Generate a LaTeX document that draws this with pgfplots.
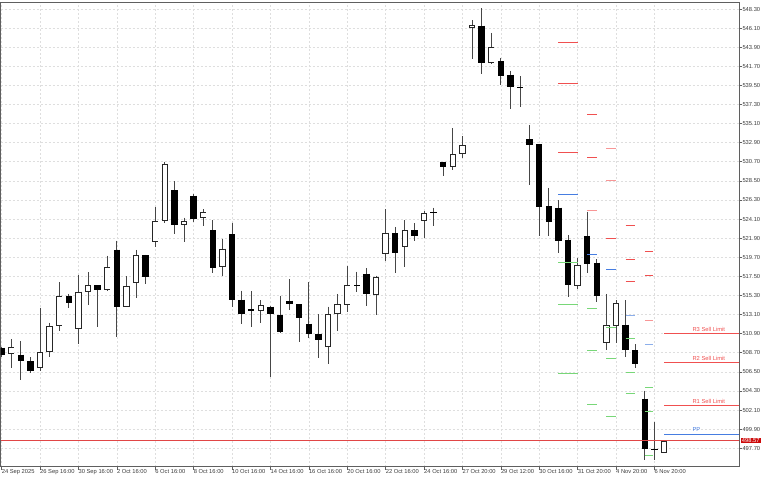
\documentclass[border=0pt]{standalone}
\usepackage{pgfplots}
\pgfplotsset{compat=1.18}
\usepackage{pgfplotstable}
\usepackage{fontspec}
\setmainfont{Liberation Sans}
\definecolor{framegray}{RGB}{95,95,95}
\definecolor{gridgray}{RGB}{222,222,222}
\definecolor{txtgray}{RGB}{60,60,60}
\definecolor{wick}{RGB}{70,70,70}
\definecolor{lvred}{RGB}{240,80,80}
\definecolor{lvpink}{RGB}{248,150,150}
\definecolor{lvblue}{RGB}{70,125,225}
\definecolor{lvlblue}{RGB}{140,175,235}
\definecolor{lvgreen}{RGB}{120,215,120}
\definecolor{priceline}{RGB}{225,70,70}
\definecolor{pricebox}{RGB}{205,10,10}

% bullish candles (white)
\pgfplotstableread{
x o h l c
1 508.52 510.24 506.90 509.32
4 506.90 513.89 506.63 508.75
5 508.75 512.16 508.17 511.74
6 511.74 516.81 511.24 515.27
8 511.40 517.62 509.71 515.74
9 515.74 518.00 514.20 516.46
11 515.89 519.88 515.80 518.54
13 514.01 517.54 514.00 516.43
14 516.77 520.54 514.97 519.92
16 521.46 525.45 520.92 523.88
17 523.88 530.71 523.68 530.40
19 523.38 524.26 521.46 523.88
21 524.18 525.26 523.26 524.91
23 518.54 521.84 517.54 520.69
27 513.51 514.77 512.16 514.16
34 509.40 514.01 507.36 513.12
35 513.12 515.47 511.20 514.28
36 514.20 518.66 513.43 516.46
39 515.39 517.58 513.05 517.42
40 520.04 525.22 519.27 522.53
42 520.84 523.99 518.62 522.84
44 523.88 525.03 521.88 524.76
47 530.13 534.59 529.75 531.56
48 531.56 533.67 531.10 532.60
49 546.15 547.03 542.50 546.46
51 542.11 545.54 542.00 543.92
60 516.43 519.65 516.04 518.85
63 509.78 515.47 509.01 511.89
64 511.78 514.77 509.86 514.39
69 497.19 498.57 497.19 498.57
}\bulltable

% bearish candles (black)
\pgfplotstableread{
x o h l c
0 509.28 509.40 508.20 508.44
2 508.48 510.05 505.55 507.71
3 507.71 508.17 506.33 506.60
7 515.27 515.47 513.81 514.47
10 516.46 516.50 511.63 515.89
12 520.57 521.61 510.55 514.01
15 519.96 520.00 516.62 517.46
18 527.41 528.45 522.34 523.38
20 526.80 526.95 523.80 524.15
22 522.84 523.99 517.92 518.50
24 522.34 523.68 514.01 514.81
25 514.81 515.85 511.97 513.12
26 513.70 515.81 511.63 513.47
28 514.01 514.05 505.94 513.12
29 513.05 515.27 511.01 511.13
30 514.70 517.16 513.62 514.28
31 514.28 514.30 509.90 512.66
32 512.05 516.81 510.36 510.86
33 510.90 513.16 508.13 510.17
37 516.50 518.04 515.74 516.39
38 517.81 518.42 514.08 515.47
41 522.46 523.19 517.85 520.15
43 522.84 523.61 521.61 522.15
45 524.88 525.41 523.30 524.80
46 530.67 530.70 529.06 530.14
50 546.38 548.38 540.81 542.11
52 542.31 542.66 539.54 540.58
53 540.73 541.19 536.74 539.28
54 539.30 540.58 536.98 539.20
55 533.28 534.94 528.03 532.59
56 532.71 532.75 522.15 525.53
57 525.60 527.68 522.15 523.80
58 525.41 526.29 520.15 521.61
59 521.69 522.26 515.16 516.50
61 522.15 524.95 517.85 518.92
62 519.08 519.46 514.58 515.24
65 511.93 514.77 508.17 509.01
66 509.01 509.67 506.90 507.44
67 503.41 504.33 496.34 497.57
68 497.62 500.68 496.34 497.50
}\beartable

\pgfplotsset{
  candlebar/.style 2 args={forget plot, draw=none, mark=none,
    error bars/.cd, y dir=minus, y explicit, error mark=none,
    error bar style={#1, line width=#2}},
}

\begin{document}
\begin{tikzpicture}
\useasboundingbox (-0.5bp,-13.3bp) rectangle (767.5bp,466.7bp);
\begin{axis}[
  scale only axis, width=738.8bp, height=464bp,
  xmin=-0.115, xmax=76.84, ymin=495.57, ymax=549.03,
  axis line style={framegray, line width=0.8bp},
  grid=major,
  major grid style={gridgray, dash pattern=on 2bp off 2bp, line width=0.6bp},
  xtick={0,4,...,68},
  xticklabels={24 Sep 2025, 26 Sep 16:00, 30 Sep 16:00, 2 Oct 16:00, 6 Oct 16:00, 8 Oct 16:00, 10 Oct 16:00, 14 Oct 16:00, 16 Oct 16:00, 20 Oct 16:00, 22 Oct 16:00, 24 Oct 16:00, 27 Oct 20:00, 29 Oct 12:00, 30 Oct 16:00, 31 Oct 20:00, 4 Nov 20:00, 6 Nov 20:00},
  ytick={497.7,499.9,502.1,504.3,506.5,508.7,510.9,513.1,515.3,517.5,519.7,521.9,524.1,526.3,528.5,530.7,532.9,535.1,537.3,539.5,541.7,543.9,546.1,548.3},
  yticklabel pos=right,
  tick align=outside, major tick length=3bp,
  tick style={framegray, line width=0.6bp},
  xtick pos=bottom, ytick pos=right,
  xticklabel style={anchor=north west, inner sep=0pt, font=\fontsize{5.8}{6}\selectfont, text=txtgray},
  yticklabel style={anchor=west, inner sep=0pt, font=\fontsize{5.8}{6}\selectfont, text=txtgray},
  /pgf/number format/.cd, fixed, fixed zerofill, precision=2, assume math mode=true,
]
% wicks
\addplot[candlebar={wick}{0.9bp}]
  table[x=x, y=h, y error minus expr=\thisrow{h}-\thisrow{l}] {\bulltable};
\addplot[candlebar={wick}{0.9bp}]
  table[x=x, y=h, y error minus expr=\thisrow{h}-\thisrow{l}] {\beartable};
% bearish bodies
\addplot[candlebar={black}{6.5bp}]
  table[x=x, y=o, y error minus expr={max(\thisrow{o}-\thisrow{c},0.12)}] {\beartable};
% bullish bodies: outline, then white inside
\addplot[candlebar={black!85}{6.5bp}]
  table[x=x, y=c, y error minus expr={max(\thisrow{c}-\thisrow{o},0.12)}] {\bulltable};
\addplot[candlebar={white}{4.6bp}]
  table[x=x, y expr=\thisrow{c}-0.115, y error minus expr={max(\thisrow{c}-\thisrow{o}-0.23,0)}] {\bulltable};

% pivot levels
\addplot[lvred, line width=0.9bp, unbounded coords=jump] coordinates {
(58,544.46) (60,544.46) (nan,nan) (58,539.77) (60,539.77) (nan,nan) (58,531.79) (60,531.79) (nan,nan)
(61,536.17) (62,536.17) (nan,nan) (61,531.25) (62,531.25) (nan,nan)
(63,521.88) (64,521.88) (nan,nan)
(65,523.38) (66,523.38) (nan,nan) (65,519.46) (66,519.46) (nan,nan) (65,516.93) (66,516.93) (nan,nan)
(67,520.38) (67.9,520.38) (nan,nan) (67,517.62) (67.9,517.62) (nan,nan)
(69,510.94) (76.84,510.94) (nan,nan) (69,507.63) (76.84,507.63) (nan,nan) (69,502.60) (76.84,502.60)
};
\addplot[lvpink, line width=0.9bp, unbounded coords=jump] coordinates {
(61,525.07) (62,525.07) (nan,nan) (63,532.21) (64,532.21) (nan,nan) (63,528.52) (64,528.52) (nan,nan)
(67,512.47) (67.9,512.47)
};
\addplot[lvblue, line width=0.9bp, unbounded coords=jump] coordinates {
(58,526.99) (60,526.99) (nan,nan) (61,520.07) (62,520.07) (nan,nan) (63,518.31) (64,518.31) (nan,nan)
(69,499.30) (76.84,499.30)
};
\addplot[lvlblue, line width=0.9bp, unbounded coords=jump] coordinates {
(65,512.97) (66,512.97) (nan,nan) (67,509.71) (67.9,509.71)
};
\addplot[lvgreen, line width=0.9bp, unbounded coords=jump] coordinates {
(58,519.08) (60,519.08) (nan,nan) (58,514.24) (60,514.24) (nan,nan) (58,506.33) (60,506.33) (nan,nan)
(61,513.85) (62,513.85) (nan,nan) (61,509.01) (62,509.01) (nan,nan) (61,502.76) (62,502.76) (nan,nan)
(63,511.63) (64,511.63) (nan,nan) (63,508.02) (64,508.02) (nan,nan) (63,501.41) (64,501.41) (nan,nan)
(65,510.40) (66,510.40) (nan,nan) (65,506.44) (66,506.44) (nan,nan) (65,503.98) (66,503.98) (nan,nan)
(67,504.71) (67.9,504.71) (nan,nan) (67,501.91) (67.9,501.91) (nan,nan) (67,496.92) (67.9,496.92)
};
% current price line
\addplot[priceline, line width=0.9bp] coordinates {(-0.115,498.57) (76.84,498.57)};

\node[anchor=base west, inner sep=0pt, text=lvred, font=\fontsize{5.8}{6}\selectfont] at (axis cs:71.95,511.20) {R3 Sell Limit};
\node[anchor=base west, inner sep=0pt, text=lvred, font=\fontsize{5.8}{6}\selectfont] at (axis cs:71.95,507.86) {R2 Sell Limit};
\node[anchor=base west, inner sep=0pt, text=lvred, font=\fontsize{5.8}{6}\selectfont] at (axis cs:71.95,502.87) {R1 Sell Limit};
\node[anchor=base west, inner sep=0pt, text=lvblue, font=\fontsize{5.8}{6}\selectfont] at (axis cs:71.95,499.68) {PP};
\coordinate (pb) at (axis cs:76.84,498.57);
\end{axis}
\node[anchor=west, fill=pricebox, text=white, inner xsep=1.2bp, inner ysep=0.6bp, xshift=1.2bp, font=\fontsize{5.8}{6}\selectfont] at (pb) {498.57};
\end{tikzpicture}
\end{document}
